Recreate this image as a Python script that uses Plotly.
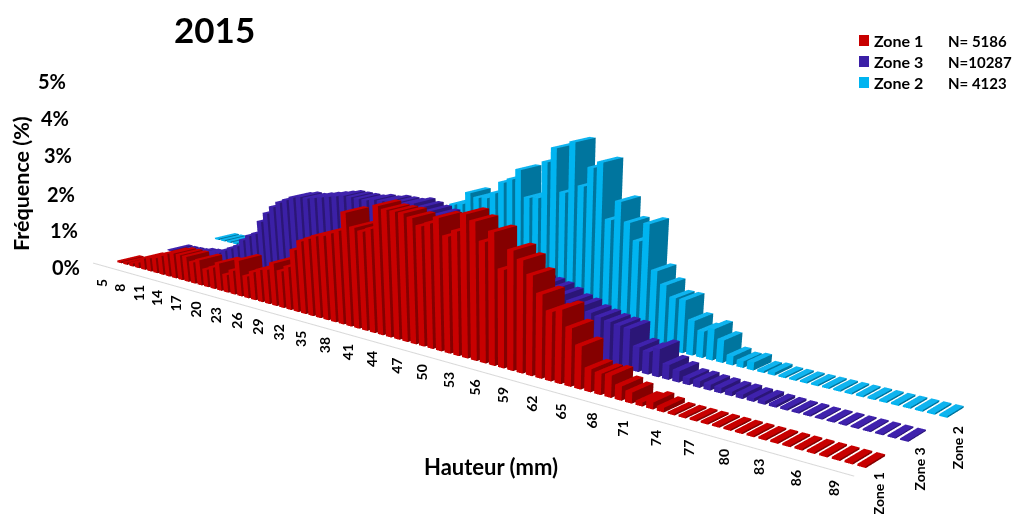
import plotly.graph_objects as go

FIG_W, FIG_H = 1015, 1186   # only the top 514 px are visible: gives the narrow field of view of the reference

hauteur = list(range(5, 91))
tick_vals = list(range(5, 90, 3))
zones = ["Zone 1", "Zone 3", "Zone 2"]
counts = ["N= 5186", "N=10287", "N= 4123"]
pct_labels = ["0%", "1%", "2%", "3%", "4%", "5%"]

zone1 = [.05,.06,.08,.15,.3,.35,.4,.5,.6,.65,
         .65,.65,.55,.65,.45,.55,.7,.45,.6,.9,
         .55,.7,.8,.85,1.05,.9,1.05,1.5,1.75,1.85,
         1.95,2.0,2.1,2.2,2.65,2.35,2.3,2.4,2.95,2.9,
         2.9,2.9,2.84,2.7,2.8,2.96,2.6,2.75,3.15,3.04,
         2.65,2.9,2.15,2.6,2.44,2.17,1.82,1.5,1.6,1.26,
         .93,.5,.46,.48,.31,.24,.09,.15,.1,.04,
         .04,.04,.04,.04,.04,.04,.04,.04,.04,.04,
         .04,.04,.04,.04,.04,.04]
zone3 = [.03,.03,.04,.05,.1,.12,.15,.2,.3,.4,
         .5,.6,.8,.95,1.05,1.4,1.65,1.85,2.0,2.1,
         2.2,2.25,2.25,2.3,2.35,2.4,2.45,2.5,2.5,2.5,
         2.5,2.55,2.55,2.6,2.6,2.6,2.65,2.6,2.55,2.5,
         2.4,2.3,2.2,2.1,2.0,1.9,1.8,1.7,1.6,1.5,
         1.45,1.43,1.38,1.3,1.2,1.15,1.05,1.0,.95,.92,
         .9,.55,.5,.62,.33,.25,.15,.15,.13,.12,
         .1,.1,.08,.08,.06,.05,.04,.04,.03,.03,
         .03,.03,.03,.03,.03,.03]
zone2 = [.04,.04,.04,.04,.05,.05,.06,.08,.1,.12,
         .15,.2,.25,.3,.35,.4,.5,.6,.7,.8,
         .9,1.0,1.05,1.1,1.2,1.3,1.4,1.5,1.6,1.7,
         1.75,1.8,1.9,1.95,2.1,2.3,2.35,2.65,2.57,2.6,
         2.75,3.03,3.14,3.39,2.79,2.82,3.66,4.0,3.05,4.19,
         3.26,3.7,3.85,2.63,3.07,2.65,2.28,2.7,1.71,1.44,
         1.2,1.2,.79,.6,.71,.51,.21,.15,.18,.05,
         .07,.04,.04,.04,.04,.04,.04,.04,.04,.04,
         .04,.04,.04,.04,.04,.04]
series = [zone1, zone3, zone2]

top_cols = ["#c80000", "#3f22ad", "#0fb4ef"]
front_cols = ["#c80000", "#3b20a6", "#00b4f0"]
side_cols = ["#850000", "#2b1677", "#00759e"]


def bars(values, row, top, front, side):
    xs, ys, zs, i, j, k, fc = [], [], [], [], [], [], []
    hw, hd = 0.33, 0.22
    for h, v in zip(hauteur, values):
        b = len(xs)
        for zv in (0, v):
            for xv, yv in ((h - hw, row - hd), (h + hw, row - hd), (h + hw, row + hd), (h - hw, row + hd)):
                xs.append(xv); ys.append(yv); zs.append(zv)
        for q, col in (((4, 5, 6, 7), top), ((0, 1, 5, 4), front), ((1, 2, 6, 5), side)):
            i += [b + q[0], b + q[0]]; j += [b + q[1], b + q[2]]; k += [b + q[2], b + q[3]]
            fc += [col, col]
    return go.Mesh3d(x=xs, y=ys, z=zs, i=i, j=j, k=k, facecolor=fc, flatshading=True,
                     lighting=dict(ambient=1, diffuse=0, specular=0, fresnel=0, roughness=1),
                     hoverinfo="skip", showscale=False)


fig = go.Figure()
for r, s in enumerate(series):
    fig.add_trace(bars(s, r, top_cols[r], front_cols[r], side_cols[r]))
fig.add_trace(go.Scatter3d(x=[3, 90.4], y=[-.5, -.5], z=[0, 0], mode="lines",
                           line=dict(color="#d9d9d9", width=2), hoverinfo="skip", showlegend=False))

FONT = "Lato, Carlito, Calibri, sans-serif"
scene_notes = []
for v in tick_vals:
    scene_notes.append(dict(x=v, y=-.55, z=0, text=str(v), showarrow=False, textangle=-90, yshift=-16,
                            font=dict(family=FONT, size=14, color="black", weight="bold")))
for r, (name, xs_, ys_) in enumerate(zip(zones, (7, 6, 6), (-33, -33, -36))):
    scene_notes.append(dict(x=90, y=r, z=0, text=name, showarrow=False, textangle=-90, xshift=xs_, yshift=ys_,
                            font=dict(family=FONT, size=14, color="black", weight="bold")))

axis = dict(visible=False, showbackground=False, showgrid=False, zeroline=False, showspikes=False)


def px(x): return x / FIG_W
def py(y): return 1 - y / FIG_H


def note(x, y, text, size, angle=0, anchor="center"):
    return dict(xref="paper", yref="paper", x=px(x), y=py(y), text=text, showarrow=False, textangle=angle,
                xanchor=anchor, yanchor="middle", font=dict(family=FONT, size=size, color="black", weight="bold"))


notes = [note(214, 29, "2015", 35), note(491, 466, "Hauteur (mm)", 22), note(21, 184, "Fréquence (%)", 21.5, -90)]
for lab, lx, ly in zip(pct_labels, (66, 64, 61, 58, 55, 52), (267, 230, 194, 155, 118, 81)):
    notes.append(note(lx, ly, lab, 20))
shapes = []
for r, (name, n) in enumerate(zip(zones, counts)):
    shapes.append(dict(type="rect", xref="paper", yref="paper", x0=px(859), x1=px(869), y0=py(35 + 21 * r),
                       y1=py(46 + 21 * r), fillcolor=front_cols[r], line_width=0))
    notes.append(note(872, 41 + 20.5 * r, name, 16, anchor="left"))
    notes.append(note(946, 41 + 21 * r, n, 15, anchor="left"))

fig.update_layout(
    width=FIG_W, height=FIG_H, autosize=False, margin=dict(l=0, r=0, t=0, b=0),
    paper_bgcolor="white", showlegend=False, annotations=notes, shapes=shapes,
    scene=dict(
        domain=dict(x=[0, 1], y=[0, 1]),
        xaxis=dict(range=[2, 93], **axis), yaxis=dict(range=[-1.5, 3.5], **axis), zaxis=dict(range=[0, 5], **axis),
        aspectmode="manual", aspectratio=dict(x=1.0706, y=0.3795, z=0.225),
        camera=dict(eye=dict(x=.9813, y=-1.1092, z=.3387), center=dict(x=.2364, y=-.2299, z=-.2632),
                    up=dict(x=0, y=0, z=1), projection=dict(type="perspective")),
        annotations=scene_notes,
    ),
)
fig.write_html("out.html", config=dict(displayModeBar=False),
               post_script="document.documentElement.style.overflow='hidden';document.body.style.overflow='hidden';document.body.style.margin='0';")
